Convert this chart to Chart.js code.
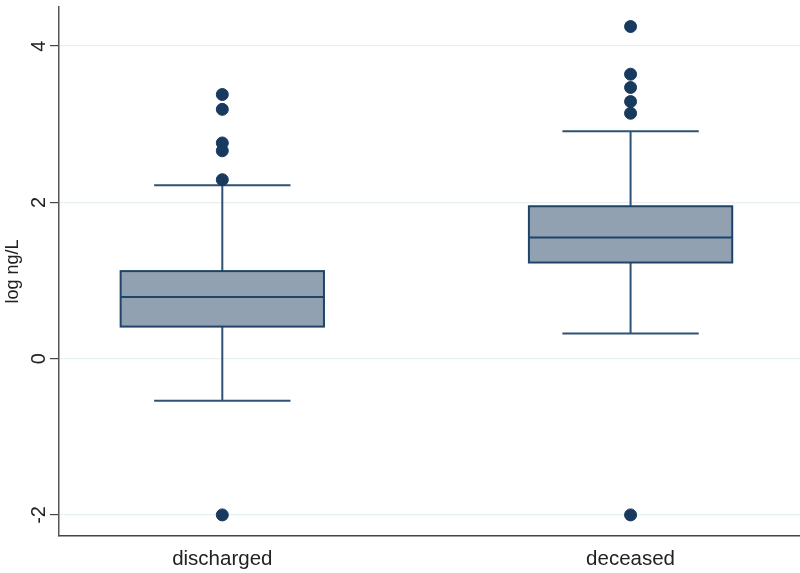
<!DOCTYPE html>
<html>
<head>
<meta charset="utf-8">
<script src="https://cdn.jsdelivr.net/npm/chart.js@4"></script>
<style>
  body { margin: 0; background: #fff; }
  canvas { display: block; }
</style>
</head>
<body>
<canvas id="box-chart" width="800" height="573"></canvas>
<script>
// box plot summary
const groups = ['discharged', 'deceased'];
const q1 = [0.41, 1.23];
const median = [0.79, 1.55];
const q3 = [1.12, 1.95];
const whiskerLow = [-0.54, 0.32];
const whiskerHigh = [2.22, 2.91];
const outliersDischarged = [3.38, 3.19, 2.76, 2.66, 2.29, -2.0];
const outliersDeceased = [4.25, 3.64, 3.47, 3.29, 3.14, -2.0];
const yTicks = [-2, 0, 2, 4];

window.onload = function () {
  const outlierPoints = [];
  outliersDischarged.forEach(v => outlierPoints.push({ x: 1, y: v }));
  outliersDeceased.forEach(v => outlierPoints.push({ x: 2, y: v }));

  // draws boxes, medians and whiskers through the chart scales
  const boxPlugin = {
    id: 'boxes',
    beforeDatasetsDraw(chart) {
      const ctx = chart.ctx;
      const xs = chart.scales.x;
      const ys = chart.scales.y;
      const boxHalf = 0.249;
      const capHalf = 0.167;
      ctx.save();
      for (let i = 0; i < groups.length; i++) {
        const c = i + 1;
        const left = xs.getPixelForValue(c - boxHalf);
        const right = xs.getPixelForValue(c + boxHalf);
        const mid = xs.getPixelForValue(c);
        const top = ys.getPixelForValue(q3[i]);
        const bottom = ys.getPixelForValue(q1[i]);

        // whiskers
        ctx.strokeStyle = '#2e5275';
        ctx.lineWidth = 2;
        ctx.beginPath();
        ctx.moveTo(mid, top);
        ctx.lineTo(mid, ys.getPixelForValue(whiskerHigh[i]));
        ctx.moveTo(mid, bottom);
        ctx.lineTo(mid, ys.getPixelForValue(whiskerLow[i]));
        ctx.moveTo(xs.getPixelForValue(c - capHalf), ys.getPixelForValue(whiskerHigh[i]));
        ctx.lineTo(xs.getPixelForValue(c + capHalf), ys.getPixelForValue(whiskerHigh[i]));
        ctx.moveTo(xs.getPixelForValue(c - capHalf), ys.getPixelForValue(whiskerLow[i]));
        ctx.lineTo(xs.getPixelForValue(c + capHalf), ys.getPixelForValue(whiskerLow[i]));
        ctx.stroke();

        // box
        ctx.fillStyle = '#91a1b2';
        ctx.fillRect(left, top, right - left, bottom - top);
        ctx.strokeStyle = '#1f4468';
        ctx.lineWidth = 2;
        ctx.strokeRect(left, top, right - left, bottom - top);

        // median
        ctx.beginPath();
        ctx.moveTo(left, ys.getPixelForValue(median[i]));
        ctx.lineTo(right, ys.getPixelForValue(median[i]));
        ctx.stroke();
      }
      ctx.restore();
    }
  };

  function noPad(scale) {
    scale.paddingTop = 0;
    scale.paddingBottom = 0;
    scale.paddingLeft = 0;
    scale.paddingRight = 0;
  }

  const ctx = document.getElementById('box-chart');
  new Chart(ctx, {
    type: 'scatter',
    data: {
      datasets: [{
        label: 'outliers',
        data: outlierPoints,
        backgroundColor: '#173a5e',
        borderColor: '#173a5e',
        pointRadius: 6,
        pointHoverRadius: 6
      }]
    },
    options: {
      responsive: false,
      animation: false,
      layout: { autoPadding: false, padding: { top: 7, right: 0, bottom: 0, left: 0 } },
      plugins: {
        legend: { display: false },
        tooltip: { enabled: false }
      },
      scales: {
        x: {
          type: 'linear',
          min: 0.6,
          max: 2.415,
          afterBuildTicks: (scale) => { scale.ticks = [{ value: 1 }, { value: 2 }]; },
          afterFit: (scale) => { scale.height = 37; noPad(scale); },
          grid: { display: false },
          border: { display: true, color: '#444', width: 1.5 },
          ticks: {
            padding: 3,
            color: '#222',
            font: { family: 'Liberation Sans, Arial, sans-serif', size: 20.5 },
            callback: (v) => groups[v - 1] || ''
          }
        },
        y: {
          min: -2.27,
          max: 4.5,
          afterBuildTicks: (scale) => { scale.ticks = yTicks.map(v => ({ value: v })); },
          afterFit: (scale) => { scale.width = 59; noPad(scale); },
          grid: { color: '#e6eff2', tickColor: '#444', tickLength: 9, lineWidth: 1.2 },
          border: { display: true, color: '#555', width: 1.5 },
          ticks: {
            minRotation: 90,
            maxRotation: 90,
            crossAlign: 'center',
            padding: 2,
            color: '#222',
            font: { family: 'Liberation Sans, Arial, sans-serif', size: 20 }
          },
          title: {
            display: true,
            text: 'log ng/L',
            color: '#222',
            padding: { top: 2, bottom: 0 },
            font: { family: 'Liberation Sans, Arial, sans-serif', size: 18 }
          }
        }
      }
    },
    plugins: [boxPlugin]
  });
};
</script>
</body>
</html>
